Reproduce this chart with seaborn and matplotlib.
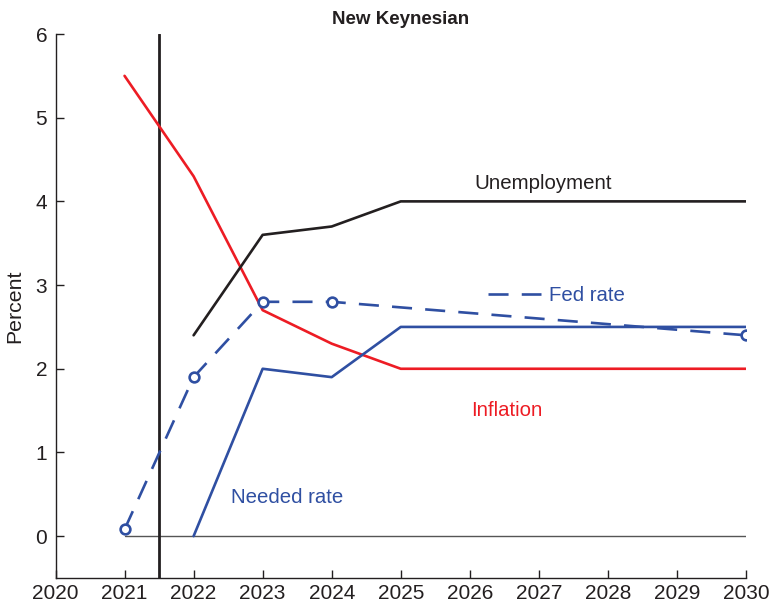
import matplotlib
matplotlib.use("Agg")
import matplotlib.pyplot as plt
from matplotlib.lines import Line2D
import seaborn as sns
import pandas as pd

# ---- data ----
inf_years = [2021, 2022, 2023, 2024, 2025, 2026, 2027, 2028, 2029, 2030]
inflation = [5.5, 4.3, 2.7, 2.3, 2.0, 2.0, 2.0, 2.0, 2.0, 2.0]

unemp_years = [2022, 2023, 2024, 2025, 2026, 2027, 2028, 2029, 2030]
unemployment = [2.4, 3.6, 3.7, 4.0, 4.0, 4.0, 4.0, 4.0, 4.0]

fed_years = [2021, 2022, 2023, 2024, 2030]
fed_rate = [0.08, 1.9, 2.8, 2.8, 2.4]

need_years = [2022, 2023, 2024, 2025, 2026, 2027, 2028, 2029, 2030]
needed_rate = [0.0, 2.0, 1.9, 2.5, 2.5, 2.5, 2.5, 2.5, 2.5]

xticks = list(range(2020, 2031))
yticks = [0, 1, 2, 3, 4, 5, 6]
title = "New Keynesian"

RED = "#ED1C24"
BLUE = "#2F4FA2"
BLACK = "#231F20"
GRAY = "#555555"
LW = 1.9

sns.set_style("ticks")
plt.rcParams["font.family"] = ["Liberation Sans", "DejaVu Sans"]

fig = plt.figure(figsize=(7.75, 6.09), dpi=100)
ax = fig.add_axes([55.5 / 775, 31 / 609, (746 - 55.5) / 775, (578 - 34) / 609])

# zero line and vertical marker
ax.plot([2021, 2030], [0, 0], color=GRAY, lw=1.0, zorder=1)
ax.axvline(2021.5, color=BLACK, lw=2.0, zorder=2)

df_inf = pd.DataFrame({"year": inf_years, "v": inflation})
df_un = pd.DataFrame({"year": unemp_years, "v": unemployment})
df_fed = pd.DataFrame({"year": fed_years, "v": fed_rate})
df_need = pd.DataFrame({"year": need_years, "v": needed_rate})

sns.lineplot(data=df_inf, x="year", y="v", color=RED, lw=LW, ax=ax, zorder=3)
sns.lineplot(data=df_un, x="year", y="v", color=BLACK, lw=LW, ax=ax, zorder=3)
sns.lineplot(data=df_need, x="year", y="v", color=BLUE, lw=LW, ax=ax, zorder=3)
sns.lineplot(data=df_fed, x="year", y="v", color=BLUE, lw=LW, ax=ax, zorder=4,
             marker="o", markersize=7, markerfacecolor="white",
             markeredgecolor=BLUE, markeredgewidth=1.9)
ax.lines[-1].set_dashes((7.6, 5.0))

ax.set_xlim(2020, 2030)
ax.set_ylim(-0.5, 6)
ax.set_xticks(xticks)
ax.set_yticks(yticks)
ax.set_xticklabels([str(t) for t in xticks])
ax.set_xlabel("")
ax.set_ylabel("Percent", fontsize=15.3, labelpad=8, color=BLACK)
ax.tick_params(axis="both", direction="in", length=5.8, width=1.0, colors=BLACK,
               labelsize=15)
ax.tick_params(axis="x", pad=4.5)
ax.tick_params(axis="y", pad=6)
sns.despine(ax=ax)
for s in ("left", "bottom"):
    ax.spines[s].set_linewidth(1.0)
    ax.spines[s].set_color(BLACK)

ax.set_title(title, fontsize=13.5, fontweight="bold", color=BLACK, pad=7)

ax.text(2027.06, 4.21, "Unemployment", color=BLACK, fontsize=14.7,
        ha="center", va="center")
ax.text(2026.54, 1.50, "Inflation", color=RED, fontsize=14.7,
        ha="center", va="center")
ax.text(2023.35, 0.465, "Needed rate", color=BLUE, fontsize=14.7,
        ha="center", va="center")

handle = Line2D([], [], color=BLUE, lw=LW, dashes=(7.6, 5.0))
leg = ax.legend([handle], ["Fed rate"], frameon=False, fontsize=14.7,
                handlelength=2.6, handletextpad=0.4, borderpad=0, borderaxespad=0,
                loc="center left", bbox_to_anchor=(2026.26, 2.876),
                bbox_transform=ax.transData)
for t in leg.get_texts():
    t.set_color(BLUE)

fig.savefig("out.png", dpi=100)
